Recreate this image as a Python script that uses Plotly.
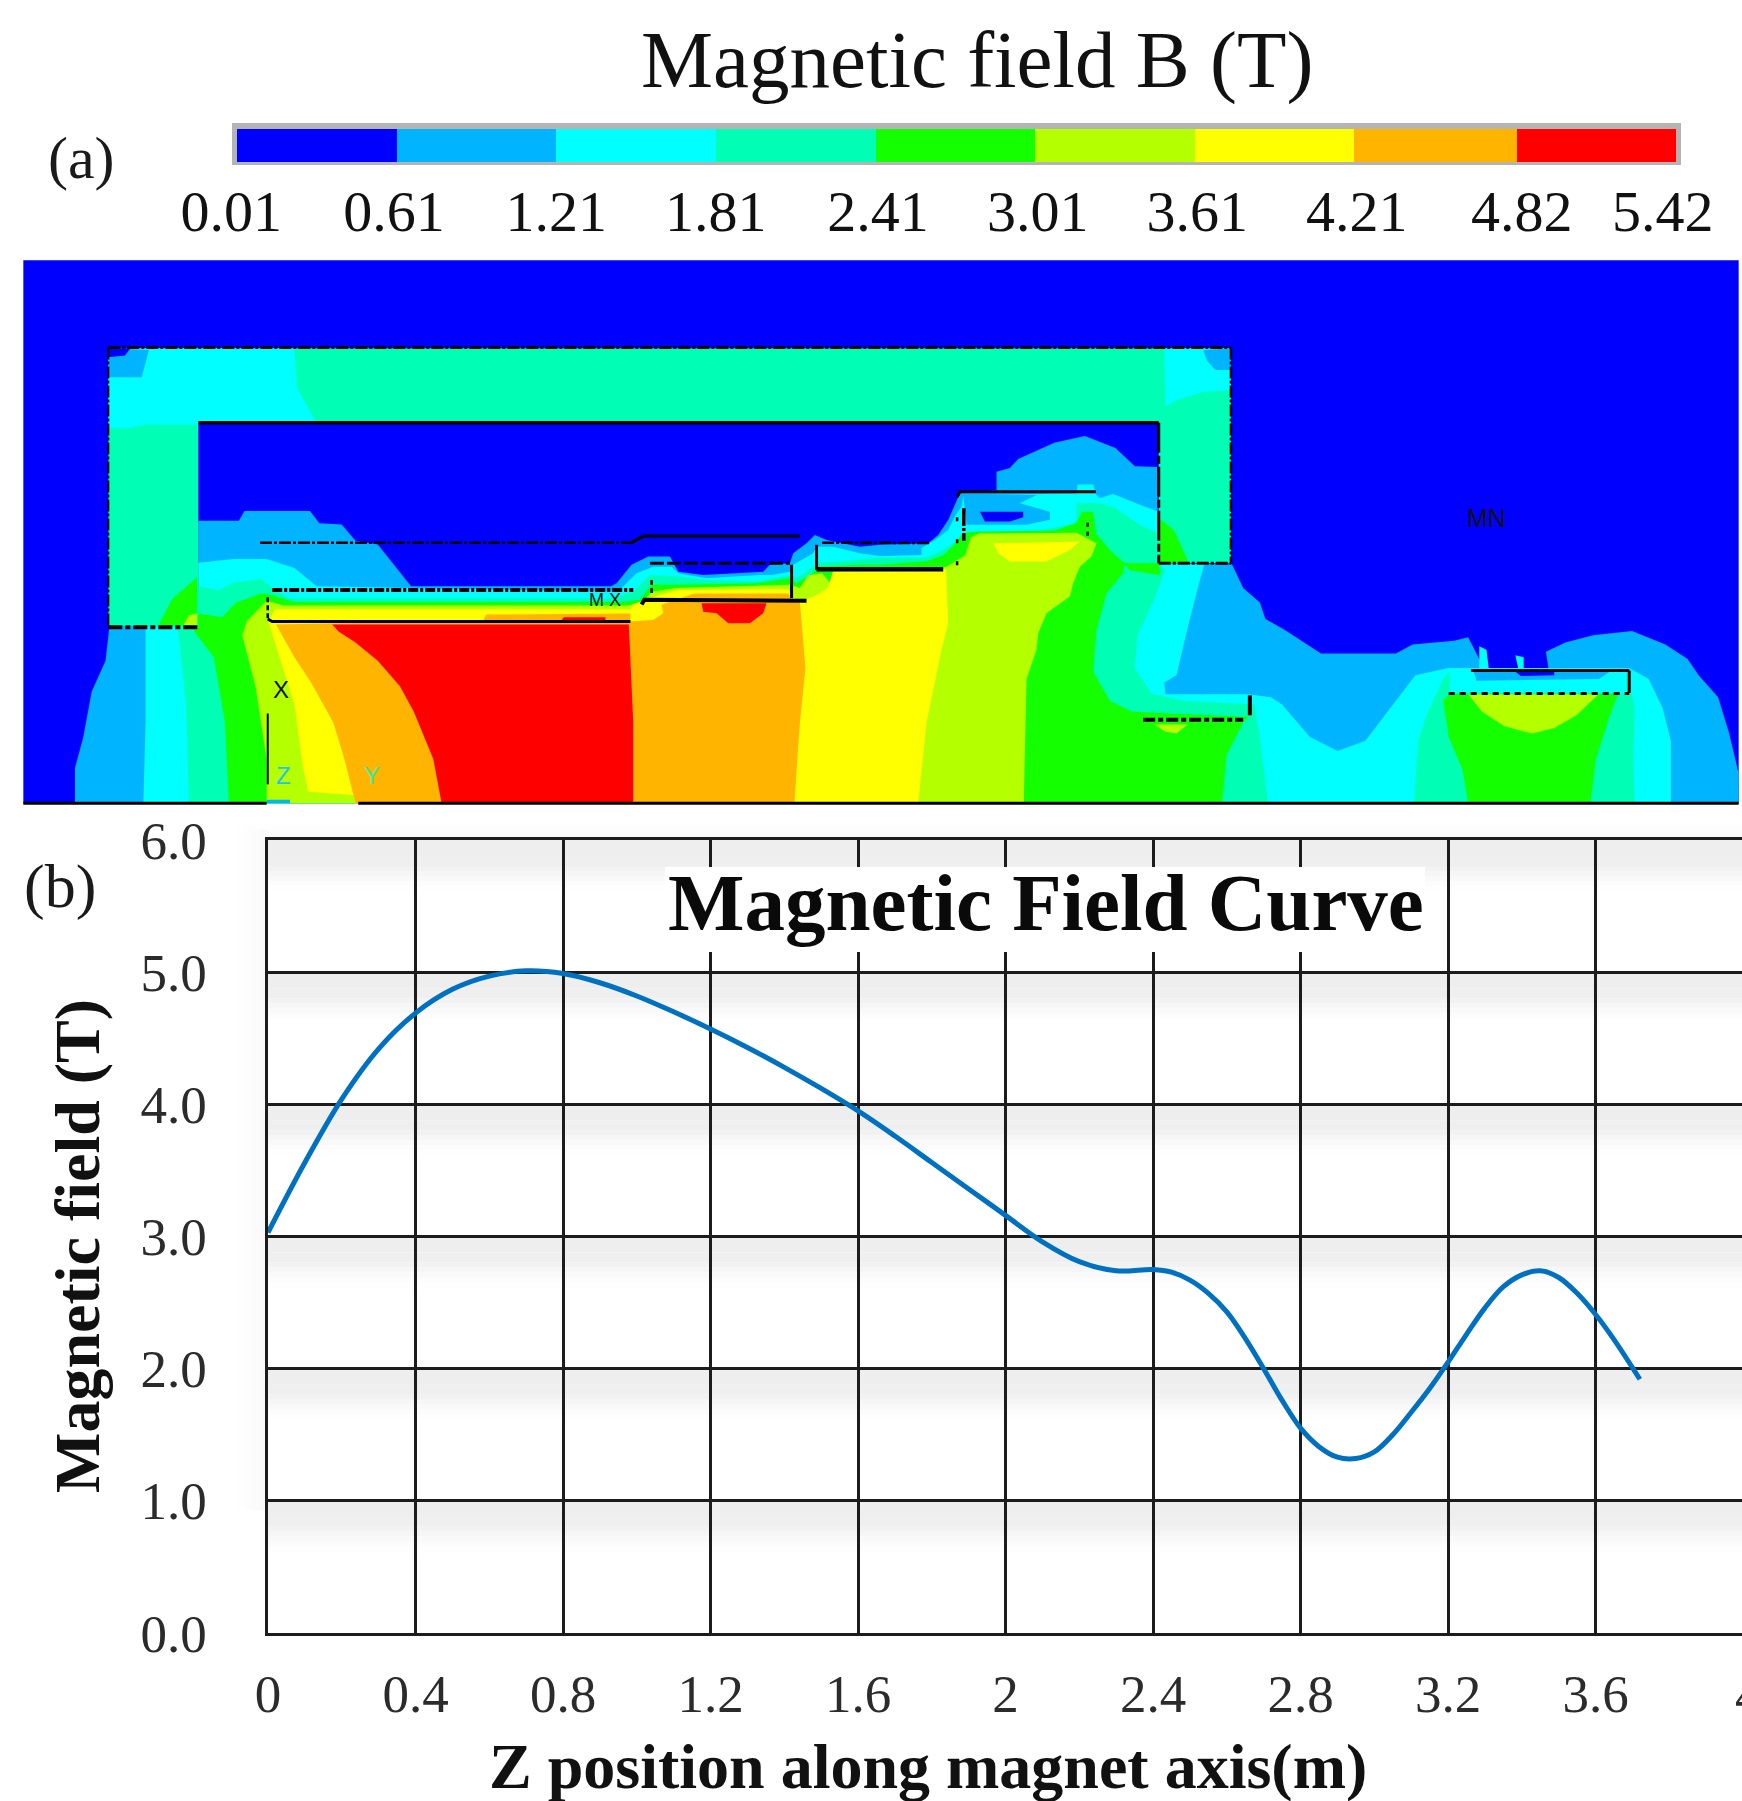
import plotly.graph_objects as go

W, H = 1742, 1801
SERIF = "Liberation Serif"
SANS = "Liberation Sans"

# ---------- field curve, panel (b) ----------
z_position = [0, 0.1, 0.2, 0.3, 0.4, 0.5, 0.6, 0.7, 0.8, 0.9, 1.0, 1.1, 1.2, 1.3, 1.4, 1.5, 1.6, 1.7, 1.8, 1.9, 2.0, 2.1, 2.2, 2.3,
              2.4, 2.45, 2.5, 2.55, 2.6, 2.65, 2.7, 2.75, 2.8, 2.85, 2.9, 2.95, 3.0, 3.05, 3.1, 3.15, 3.2, 3.25, 3.3, 3.35,
              3.4, 3.45, 3.5, 3.55, 3.6, 3.65, 3.72]
field_b = [3.03, 3.56, 4.04, 4.42, 4.69, 4.87, 4.97, 5.01, 4.99, 4.92, 4.82, 4.70, 4.57, 4.43, 4.28, 4.12, 3.95, 3.76, 3.56, 3.36, 3.16, 2.96, 2.81, 2.74,
           2.75, 2.73, 2.67, 2.57, 2.43, 2.23, 2.00, 1.76, 1.55, 1.41, 1.33, 1.32, 1.37, 1.50, 1.67, 1.85, 2.05, 2.26, 2.46, 2.62,
           2.71, 2.74, 2.69, 2.57, 2.41, 2.22, 1.92]
x_ticks = [0, 0.4, 0.8, 1.2, 1.6, 2, 2.4, 2.8, 3.2, 3.6]
x_tick_text = ["0", "0.4", "0.8", "1.2", "1.6", "2", "2.4", "2.8", "3.2", "3.6"]
y_ticks = [0, 1, 2, 3, 4, 5, 6]
y_tick_text = ["0.0", "1.0", "2.0", "3.0", "4.0", "5.0", "6.0"]

# ---------- colour key, panel (a) ----------
level_edges = [0.01, 0.61, 1.21, 1.81, 2.41, 3.01, 3.61, 4.21, 4.82, 5.42]
level_labels = ["0.01", "0.61", "1.21", "1.81", "2.41", "3.01", "3.61", "4.21", "4.82", "5.42"]
level_label_pos = [-0.012, 0.60, 1.21, 1.81, 2.42, 3.02, 3.62, 4.22, 4.84, 5.37]
BLUE, SKY, CYAN, AQUA, GREEN, LIME, YELLOW, ORANGE, RED = (
    "#0000ff", "#00b4ff", "#00ffff", "#00ffb4", "#14ff00", "#b4ff00", "#ffff00", "#ffb400", "#ff0000")
level_colors = [BLUE, SKY, CYAN, AQUA, GREEN, LIME, YELLOW, ORANGE, RED]


def R(*pts):
    """points of the right half of the map"""
    return [(x + 1568, y) for x, y in pts]


# ---------- contour regions of the field map (map units) ----------
map_frame = [(42, 28)] + R((1562, 28), (1562, 1522)) + [(42, 1522)]

sky_regions = [
    [(135, 1522), (135, 1425), (150, 1340), (165, 1215), (190, 1130), (197, 1035), (357, 1035), (357, 745), (430, 745),
     (440, 718), (558, 718), (575, 752), (615, 755), (640, 800), (680, 810), (740, 925), (1100, 925), (1110, 917),
     (1137, 866), (1167, 843), (1206, 843), (1221, 885), (1266, 894), (1374, 885), (1386, 866), (1422, 862),
     (1428, 834), (1452, 807), (1467, 784), (1488, 798), (1548, 816)]
    + R((16, 811), (103, 807), (121, 784), (139, 743), (154, 688), (160, 669), (226, 660), (226, 610), (250, 600),
        (265, 575), (330, 530), (385, 512), (440, 545), (475, 595), (515, 597), (518, 862), (650, 865), (670, 930),
        (700, 970), (710, 1015), (745, 1045), (810, 1110), (945, 1110), (975, 1085), (1050, 1075), (1075, 1065),
        (1100, 1140), (1115, 1155), (1220, 1155), (1215, 1105), (1250, 1080), (1300, 1060), (1370, 1048), (1430, 1085),
        (1470, 1125), (1490, 1170), (1525, 1230), (1545, 1330), (1562, 1440), (1562, 1522)),
]
cyan_regions = [
    [(258, 1522), (262, 1300), (262, 1035), (357, 1035), (357, 860), (420, 850), (480, 850), (530, 875), (570, 925),
     (1100, 940), (1119, 930), (1146, 889), (1176, 871), (1209, 871), (1221, 889), (1272, 903), (1368, 894), (1389, 894),
     (1422, 885), (1428, 866), (1464, 834), (1470, 816), (1500, 816), (1548, 834)]
    + R((16, 842), (91, 839), (91, 820), (115, 798), (139, 770), (151, 733), (163, 706), (166, 675), (370, 670),
        (372, 645), (400, 645), (405, 672), (412, 683), (436, 671), (484, 701), (518, 720), (518, 862), (600, 865),
        (590, 920), (570, 1040), (550, 1170), (528, 1190), (530, 1222), (680, 1222), (720, 1230), (740, 1250), (790, 1340),
        (840, 1378), (890, 1350), (940, 1250), (980, 1170), (1040, 1150), (1365, 1150), (1400, 1180), (1425, 1260),
        (1440, 1350), (1440, 1522)),
    R((1095, 1090), (1108, 1100), (1112, 1150), (1095, 1150)),
    R((1160, 1115), (1175, 1120), (1175, 1155), (1165, 1150)),
]
aqua_regions = [
    [(340, 1522), (335, 1250), (320, 1035), (357, 1035), (357, 925), (395, 935), (420, 915), (470, 905), (495, 935),
     (520, 958), (1100, 958), (1140, 940), (1170, 894), (1218, 898), (1278, 908), (1362, 912), (1425, 894), (1434, 903),
     (1464, 871), (1470, 862), (1548, 852)]
    + R((16, 846), (100, 846), (135, 820), (160, 795), (175, 775), (300, 772), (370, 752), (370, 697), (405, 695), (412, 697),
        (436, 706), (484, 756), (510, 775), (518, 780), (518, 862), (530, 880), (510, 960), (480, 1060), (475, 1150),
        (505, 1220), (560, 1240), (690, 1250), (700, 1340), (715, 1522)),
    R((978, 1522), (985, 1350), (1000, 1280), (1030, 1180), (1042, 1160), (1042, 1220), (1360, 1220), (1360, 1160),
      (1375, 1260), (1372, 1400), (1375, 1522)),
]
green_regions = [
    [(412, 1522), (405, 1300), (385, 1120), (350, 1050), (357, 1000), (400, 1010), (425, 970), (470, 945), (490, 950),
     (530, 968), (1120, 968), (1152, 962), (1173, 921), (1218, 921), (1362, 917), (1422, 903), (1434, 917), (1464, 889),
     (1470, 871), (1548, 866)]
    + R((16, 866), (100, 856), (130, 840), (150, 810), (165, 780), (185, 775), (330, 772), (370, 750), (380, 720),
        (400, 720), (405, 779), (430, 825), (457, 862), (454, 889), (424, 944), (406, 1045), (403, 1100), (400, 1160),
        (430, 1240), (470, 1270), (680, 1285), (670, 1300), (640, 1390), (632, 1522)),
    R((455, 862), (518, 862), (520, 895), (500, 890), (465, 880)),
    R((1075, 1522), (1065, 1430), (1040, 1340), (1030, 1240), (1042, 1220), (1345, 1220), (1330, 1280), (1305, 1400),
      (1295, 1522)),
]
lime_regions = [
    [(480, 1522), (480, 1400), (460, 1200), (436, 1060), (445, 1020), (480, 965), (510, 978), (1130, 978), (1155, 972),
     (1173, 940), (1218, 930), (1422, 921), (1440, 930), (1455, 895), (1480, 889), (1494, 915), (1500, 880), (1548, 876)]
    + R((16, 876), (135, 872), (170, 840), (180, 790), (195, 780), (370, 778), (406, 807), (397, 843), (376, 871),
        (364, 917), (358, 953), (316, 999), (301, 1054), (298, 1100), (280, 1180), (275, 1522)),
    R((1075, 1222), (1310, 1222), (1270, 1280), (1230, 1315), (1190, 1330), (1140, 1310), (1100, 1270)),
    R((510, 1305), (570, 1305), (550, 1330), (530, 1325)),
]
yellow_regions = [
    [(483, 1022), (495, 988), (1137, 988), (1137, 976), (1175, 955), (1218, 935), (1420, 933), (1425, 955), (1445, 965),
     (1470, 950), (1490, 930), (1500, 885)]
    + R((0, 880), (135, 878), (139, 1027), (127, 1100), (100, 1300), (85, 1522))
    + [(640, 1522), (640, 1500), (555, 1490), (545, 1420), (530, 1250), (500, 1100)],
    R((220, 807), (376, 802), (358, 825), (316, 857), (250, 857), (229, 834)),
]
orange_regions = [
    [(497, 1030), (870, 1020), (875, 1003), (1135, 1000), (1134, 1022), (1176, 1018), (1194, 999), (1191, 976), (1230, 955),
     (1250, 945), (1420, 945), (1425, 968), (1440, 968), (1450, 1150), (1440, 1300), (1430, 1522), (640, 1522), (620, 1400),
     (600, 1300), (560, 1190), (530, 1120)],
]
red_regions = [
    [(598, 1030), (1132, 1030), (1140, 1300), (1140, 1522), (795, 1522), (780, 1400), (745, 1270), (720, 1200), (680, 1130),
     (640, 1080), (610, 1050)],
    [(1010, 1020), (1090, 1020), (1090, 1010), (1015, 1010)],
    [(1263, 972), (1380, 972), (1374, 999), (1350, 1027), (1311, 1027), (1290, 999), (1266, 995)],
]
yoke_aqua = [
    [(195, 270)] + R((648, 270), (648, 862), (518, 862), (518, 475)) + [(357, 475), (357, 1035), (195, 1035)],
]
yoke_cyan = [
    [(195, 270), (530, 270), (535, 380), (568, 470), (568, 475), (357, 475), (357, 480), (262, 480), (230, 490), (195, 490)],
    R((528, 270), (648, 270), (648, 385), (600, 390), (555, 410), (530, 430)),
]
yoke_sky = [
    [(195, 270), (268, 275), (255, 350), (195, 350)],
    R((598, 275), (648, 270), (648, 330), (620, 330), (605, 305)),
    R((166, 674), (298, 674), (268, 697), (322, 720), (322, 742), (280, 756), (172, 756)),
    R((1085, 1160), (1330, 1160), (1310, 1180), (1090, 1185)),
    [(480, 1512), (522, 1512), (522, 1522), (480, 1522)],
]
yoke_green = [
    [(285, 1033), (310, 960), (355, 900), (355, 1033)],
    R((520, 740), (545, 770), (572, 860), (520, 860)),
]
yoke_lime = [[(330, 1033), (340, 1005), (355, 1000), (355, 1033)]]
pocket_blue = [
    R((196, 720), (274, 720), (274, 735), (250, 747), (205, 747)),
    R((1160, 1160), (1230, 1160), (1230, 1170), (1170, 1172)),
    [(195, 270), (235, 270), (225, 290), (195, 295)],
]

# ---------- drawn outlines of the magnet parts: points, width, dash ----------
SOLID, DD, HEAVY = "solid", "12px,2px,3px,2px", "14px,3px,5px,3px"
outlines = [
    ([(195, 268)] + R((648, 268)), 3, DD),
    (R((648, 268), (648, 862)), 2.5, DD),
    ([(195, 268), (195, 1035)], 2, DD),
    ([(195, 1038), (357, 1038)], 4, HEAVY),
    ([(357, 475)] + R((518, 475)), 3.5, SOLID),
    (R((518, 475), (518, 862)), 3, "30px,3px,8px,3px"),
    (R((518, 862), (648, 862)), 3, DD),
    ([(468, 805), (1135, 805)], 2.5, DD),
    ([(1135, 807), (1158, 787), (1440, 787)], 3, SOLID),
    ([(490, 935), (1140, 935)], 4, "10px,2px,3px,2px"),
    ([(482, 955), (482, 1020)], 2.5, "5px,3px"),
    ([(482, 1015), (490, 1022), (1135, 1022)], 3, SOLID),
    ([(1170, 862), (1422, 862)], 3, "14px,3px"),
    ([(1425, 866), (1425, 958)], 3, SOLID),
    ([(1173, 908), (1173, 949)], 2.5, "5px,3px"),
    ([(1155, 975), (1160, 962), (1452, 965)], 4, SOLID),
    ([(1470, 811), (1470, 880)], 3, SOLID),
    ([(1470, 878)] + R((130, 878)), 4.5, SOLID),
    ([(1480, 805)] + R((105, 806)), 2.5, DD),
    (R((155, 680), (160, 665), (405, 665)), 3, SOLID),
    (R((167, 710), (167, 800)), 3.5, "18px,2px,3px,2px"),
    (R((155, 735), (155, 890)), 2.5, "4px,18px"),
    (R((390, 750), (390, 800)), 2.5, "4px,5px"),
    (R((490, 1292), (670, 1292)), 4, "12px,3px,5px,3px"),
    (R((682, 1225), (682, 1280)), 4, SOLID),
    (R((1080, 1157), (1365, 1157)), 3, SOLID),
    (R((1365, 1157), (1365, 1218)), 3, SOLID),
    (R((1040, 1220), (1365, 1220)), 3, "6px,5px"),
    ([(482, 1275), (482, 1470)], 2, SOLID),
    ([(42, 1522), (480, 1522)], 3, SOLID),
    ([(645, 1522)] + R((1562, 1522)), 3, SOLID),
]
map_labels = [("M X", 1090, 962, 18, "#111111"), ("MN", 1568 + 1108, 738, 25, "#111111"),
              ("X", 505, 1208, 24, "#111111"), ("Z", 510, 1445, 24, "#22c4ee"), ("Y", 670, 1445, 24, "#33eeaa")]

# ---------- soft shading of the chart panel ----------
shade_below_px = [0, 16, 26, 31, 36, 41, 46, 52]
shade_tones = ["#eeeeee", "#efefef", "#f2f2f2", "#f6f6f6", "#f9f9f9", "#fcfcfc", "#fefefe"]


def px(x):
    return x / W


def py(y):
    return 1 - y / H


def unzip(regions):
    xs, ys = [], []
    for reg in regions:
        pts = reg + [reg[0]]
        xs += [p[0] for p in pts] + [None]
        ys += [p[1] for p in pts] + [None]
    return xs, ys


fig = go.Figure()


def add_regions(regions, color):
    xs, ys = unzip(regions)
    fig.add_trace(go.Scatter(x=xs, y=ys, xaxis="x2", yaxis="y2", mode="lines", fill="toself", fillcolor=color,
                             line=dict(width=0, color=color), hoverinfo="skip", showlegend=False))


add_regions([map_frame], BLUE)
for regs, col in [(sky_regions, SKY), (cyan_regions, CYAN), (aqua_regions, AQUA), (green_regions, GREEN),
                  (lime_regions, LIME), (yellow_regions, YELLOW), (orange_regions, ORANGE), (red_regions, RED),
                  (yoke_aqua, AQUA), (yoke_cyan, CYAN), (yoke_sky, SKY), (yoke_green, GREEN), (yoke_lime, LIME),
                  (pocket_blue, BLUE)]:
    add_regions(regs, col)

for pts, width, dash in outlines:
    fig.add_trace(go.Scatter(x=[p[0] for p in pts], y=[p[1] for p in pts], xaxis="x2", yaxis="y2", mode="lines",
                             line=dict(color="#000000", width=width, dash=dash), hoverinfo="skip", showlegend=False))

# colour key
fig.add_trace(go.Bar(x=[level_edges[i + 1] - level_edges[i] for i in range(9)], base=level_edges[:-1], y=[0] * 9,
                     orientation="h", width=1, marker=dict(color=level_colors, line=dict(width=0)),
                     xaxis="x3", yaxis="y3", hoverinfo="skip", showlegend=False))

# field curve
fig.add_trace(go.Scatter(x=z_position, y=field_b, mode="lines", line=dict(color="#0070c0", width=5, shape="spline", smoothing=1.0),
                         xaxis="x", yaxis="y", showlegend=False, name="Magnetic field"))

shapes = []
# grey frame of the colour key
shapes.append(dict(type="rect", xref="paper", yref="paper", x0=px(232), x1=px(1681), y0=py(123), y1=py(165),
                   fillcolor="#b4b4b4", line_width=0, layer="below"))
# bands below the grid rows
for g in y_ticks[1:]:
    for k, tone in enumerate(shade_tones):
        shapes.append(dict(type="rect", xref="paper", yref="y", x0=px(268), x1=1, y0=g - shade_below_px[k] / 132.2,
                           y1=g - shade_below_px[k + 1] / 132.2, fillcolor=tone, line_width=0, layer="below"))
# glow outside the panel
for i, tone in enumerate(["#fefefe", "#fdfdfd", "#fbfbfb", "#f9f9f9"]):
    shapes.append(dict(type="rect", xref="paper", yref="paper", x0=px(236 + 8 * i), x1=px(244 + 8 * i), y0=py(830), y1=py(1510),
                       fillcolor=tone, line_width=0, layer="below"))
    shapes.append(dict(type="rect", xref="paper", yref="paper", x0=px(236 + 8 * i), x1=1, y0=py(824 + 4 * i), y1=py(828 + 4 * i),
                       fillcolor=tone, line_width=0, layer="below"))
# white patch behind the chart title
shapes.append(dict(type="rect", xref="paper", yref="paper", x0=px(665), x1=px(1425), y0=py(867), y1=py(952),
                   fillcolor="#ffffff", line_width=0, layer="above"))

ann = []


def label(text, x, y, size, bold=False, color="#111111", angle=0):
    t = f"<b>{text}</b>" if bold else text
    ann.append(dict(text=t, xref="paper", yref="paper", x=px(x), y=py(y), xanchor="center", yanchor="middle", showarrow=False,
                    textangle=angle, font=dict(family=SERIF, size=size, color=color)))


label("Magnetic field B (T)", 977, 60, 81)
label("(a)", 81, 158, 60, color="#1a1a1a")
label("(b)", 60, 886, 62, color="#1a1a1a")
label("Magnetic Field Curve", 1046, 903, 81, bold=True, color="#0a0a0a")
label("Magnetic field (T)", 77, 1246, 64, bold=True, color="#111111", angle=-90)
label("Z position along magnet axis(m)", 928, 1766, 64, bold=True, color="#111111")
label("4", 1748, 1695, 53, color="#2b2b2b")
for text, x, y, size, color in map_labels:
    ann.append(dict(text=text, xref="x2", yref="y2", x=x, y=y, xanchor="center", yanchor="middle", showarrow=False,
                    font=dict(family=SANS, size=size, color=color)))

TICKFONT = dict(family=SERIF, size=53, color="#2b2b2b")
fig.update_layout(
    template="none",
    width=W, height=H, margin=dict(l=0, r=0, t=0, b=0, pad=0), autosize=False,
    paper_bgcolor="#ffffff", plot_bgcolor="rgba(0,0,0,0)", showlegend=False, bargap=0,
    shapes=shapes, annotations=ann,
    xaxis=dict(domain=[px(268), 1], range=[0, 3.997], tickvals=x_ticks, ticktext=x_tick_text, showgrid=True, gridcolor="#1c1c1c",
               gridwidth=2.5, zeroline=False, showline=True, mirror=True, linecolor="#1c1c1c", linewidth=2.5,
               ticks="outside", ticklen=13, tickcolor="rgba(0,0,0,0)", automargin=False,
               tickfont=TICKFONT, anchor="y"),
    yaxis=dict(domain=[py(1633), py(840)], range=[0, 6], tickvals=y_ticks, ticktext=y_tick_text, showgrid=True, gridcolor="#1c1c1c",
               gridwidth=2.5, zeroline=False, showline=True, linecolor="#1c1c1c", linewidth=2.5,
               ticks="outside", ticklen=48, tickcolor="rgba(0,0,0,0)", automargin=False,
               tickfont=TICKFONT, anchor="x"),
    xaxis2=dict(domain=[0, 1], range=[0, 3136], visible=False, anchor="y2", automargin=False),
    yaxis2=dict(domain=[py(820), py(250)], range=[1568, 0], visible=False, anchor="x2", automargin=False),
    xaxis3=dict(domain=[px(237 - 0.11 * 266), px(1676 + 0.08 * 266)], range=[-0.1, 5.5], tickvals=level_label_pos, ticktext=level_labels, showgrid=False,
                zeroline=False, showline=False, ticks="", ticklabelstandoff=10, automargin=False,
                tickfont=dict(family=SERIF, size=58, color="#111111"), anchor="y3"),
    yaxis3=dict(domain=[py(162), py(129)], range=[-0.5, 0.5], visible=False, anchor="x3", automargin=False),
)
# the reference has no page margin around the figure
fig.write_html("out.html", config=dict(displayModeBar=False),
               post_script="document.body.style.margin='0';document.documentElement.style.overflow='hidden';")
